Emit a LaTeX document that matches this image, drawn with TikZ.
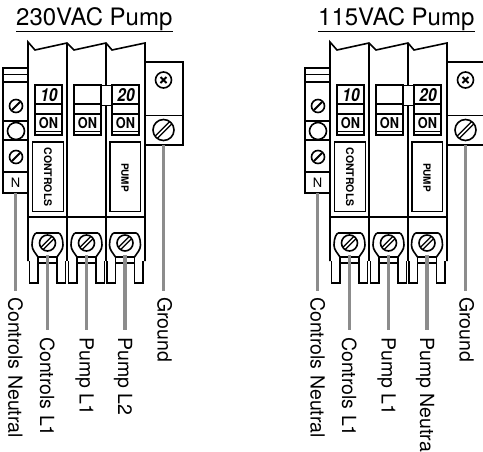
\documentclass[tikz,border=0pt]{standalone}
\usepackage{fontspec}
\setmainfont{TeX Gyre Heros}
\usetikzlibrary{calc}
\newcommand{\fsz}[1]{\fontsize{#1}{#1}\selectfont}
\newcommand{\screw}[3]{% x y r: single-bar screw
  \draw[thin line] (#1,#2) circle (#3);
  \draw[line width=2pt] ($(#1,#2)+(-.62*#3,.62*#3)$) -- ($(#1,#2)+(.62*#3,-.62*#3)$);}
\newcommand{\slotscrew}[3]{% x y r: double-line slot screw
  \draw[line width=4.4pt] ($(#1,#2)+(-.68*#3,.68*#3)$) -- ($(#1,#2)+(.68*#3,-.68*#3)$);
  \draw[line width=1.7pt,white] ($(#1,#2)+(-.68*#3,.68*#3)$) -- ($(#1,#2)+(.68*#3,-.68*#3)$);
  \draw[thin line] (#1,#2) circle (#3);}
\newcommand{\switchbox}[2]{% x, label
  \draw[thin line] (#1,85) rectangle (#1+27,135);
  \draw[thin line] (#1,104) -- (#1+27,104) (#1,114) -- (#1+27,114);
  \draw[thin line] (#1,131.5) -- (#1+27,131.5);
  \node[font=\fsz{18}\bfseries\itshape,inner sep=0pt] (ratingtext#1) at (#1+14,95) {\scalebox{.85}[1]{#2}};
  \node[font=\fsz{15}\bfseries,inner sep=0pt] (ontext#1) at (#1+13.5,123) {\scalebox{.85}[1]{ON}};}
\newcommand{\lug}[1]{% x of centre
  \draw[thin line,line join=miter] (#1-18,261) -- (#1-18,283) -- (#1-9.5,283) -- (#1-9.5,257);
  \draw[thin line,line join=miter] (#1+9.5,257) -- (#1+9.5,283) -- (#1+18,283) -- (#1+18,261);
  \draw[thin line] (#1-10,263) -- (#1+10,263);
  \draw[thin line] (#1-9.5,257) .. controls (#1-12,253) and (#1-15.5,250) .. (#1-15.5,245) .. controls (#1-15.5,238) and (#1-13,233) .. (#1-11,233) -- (#1+11,233) .. controls (#1+13,233) and (#1+15.5,238) .. (#1+15.5,245) .. controls (#1+15.5,250) and (#1+12,253) .. (#1+9.5,257) -- cycle;
  \slotscrew{#1}{243}{8}}
\newcommand{\panel}[6]{%
\begin{scope}[shift={(#1,0)}]
  \coordinate (wNa#1) at (15.5,193); \coordinate (wNb#1) at (15.5,291);
  \coordinate (wGa#1) at (163.5,145); \coordinate (wGb#1) at (163.5,291);
  \coordinate (wAa#1) at (47.5,255); \coordinate (wAb#1) at (47.5,330);
  \coordinate (wBa#1) at (86.5,255); \coordinate (wBb#1) at (86.5,330);
  \coordinate (wCa#1) at (125,255); \coordinate (wCb#1) at (125,330);
  \draw[thin line] (3,68) rectangle (28,193);
  \draw[thin line] (3,74.5) -- (28,74.5) (3,82) -- (28,82) (3,121) -- (28,121) (3,140) -- (28,140) (3,172) -- (28,172);
  \screw{16}{106}{6.5}
  \draw[thin line] (16,131) circle (8.5);
  \screw{16}{157}{6.5}
  \node[font=\fsz{13},inner sep=0pt] (ntext#1) at (15.5,183) {N};
  \draw[thin line] (145,62) rectangle (183,145);
  \draw[thin line] (145,115.5) -- (183,115.5);
  \draw[thin line] (163.5,80) circle (8);
  \draw[line width=2pt] (160.5,77) -- (166.5,83) (160.5,83) -- (166.5,77);
  \slotscrew{163.5}{130}{10.5}
  \draw[thin line,line join=miter] (28,261) -- (28,42) -- (35,50) -- (67,43) -- (74,50) -- (106,43) -- (112,50) -- (145,43) -- (145,261);
  \draw[thin line] (67,43) -- (67,261);
  \draw[thin line] (106,43) -- (106,85) (106,105) -- (106,261);
  \draw[thin line] (28,217) -- (145,217);
  \switchbox{35}{10}
  \switchbox{74}{}
  \switchbox{112}{20}
  \draw[line width=.7pt] (101,85) -- (112,85) (101,105) -- (112,105);
  \draw[thin line] (32.5,142) rectangle (63.5,211.5);
  \draw[thin line] (110,142) rectangle (140.5,211.5);
  \node[font=\fsz{10.5}\bfseries,rotate=-90,inner sep=0pt] (ctext#1) at (48,177) {CONTROLS};
  \node[font=\fsz{10}\bfseries,rotate=-90,inner sep=0pt] (ptext#1) at (125,177.5) {PUMP};
  \lug{47.5}\lug{86.5}\lug{125}
  \draw[wire] (wNa#1) -- (wNb#1);
  \draw[wire] (wGa#1) -- (wGb#1);
  \draw[wire] (wAa#1) -- (wAb#1);
  \draw[wire] (wBa#1) -- (wBb#1);
  \draw[wire] (wCa#1) -- (wCb#1);
  \node[lbl] (lN#1) at (8.5,297) {#2};
  \node[lbl] (lA#1) at (40,337) {#3};
  \node[lbl] (lB#1) at (79.5,337) {#4};
  \node[lbl] (lC#1) at (118,337) {#5};
  \node[lbl] (lG#1) at (157.5,297) {#6};
\end{scope}}
\tikzset{
  thin line/.style={line width=1.6pt,draw=black},
  wire/.style={line width=3.4pt,draw=black!45},
  lbl/.style={font=\fsz{19.5},rotate=-90,anchor=base west,inner sep=0pt},
  ttl/.style={font=\fsz{24},inner sep=0pt,anchor=base west},
}
\begin{document}
\begin{tikzpicture}[x=1pt,y=-1pt]
\useasboundingbox[fill=white] (0,0) rectangle (483,451);
\begin{scope}
\clip (0,0) rectangle (483,451);
\node[ttl] (t1) at (16,25) {\underline{230VAC Pump}};
\node[ttl] (t2) at (318,25) {\underline{115VAC Pump}};
\panel{0}{Controls Neutral}{Controls L1}{Pump L1}{Pump L2}{Ground}
\panel{302}{Controls Neutral}{Controls L1}{Pump L1}{Pump Neutra}{Ground}
\end{scope}
\end{tikzpicture}
\end{document}
